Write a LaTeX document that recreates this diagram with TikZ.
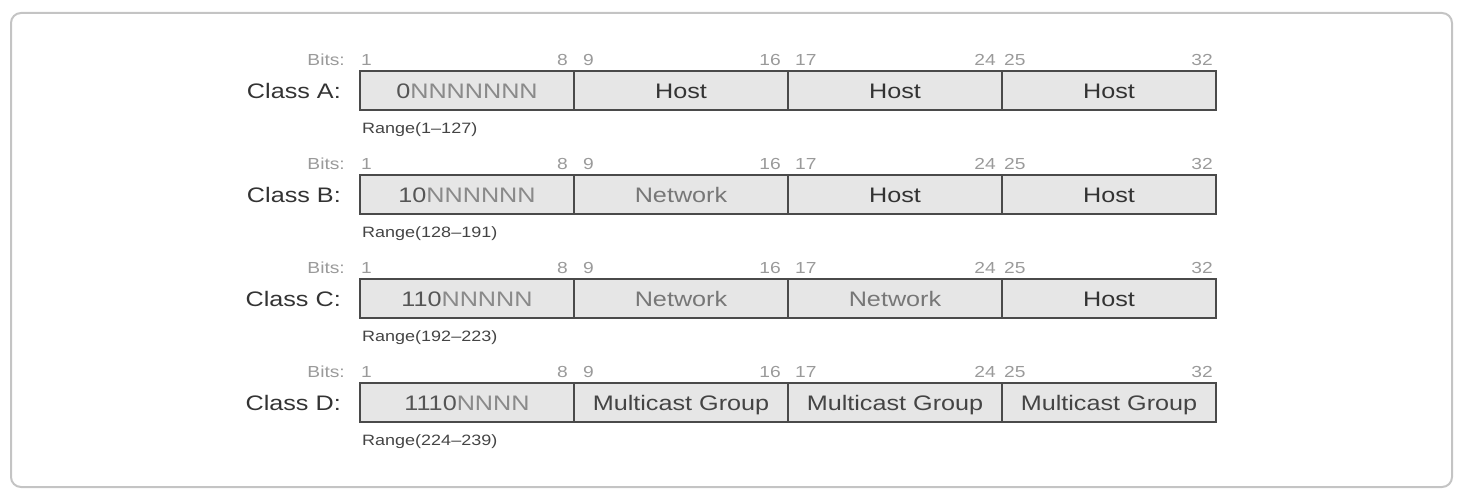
\documentclass[tikz,border=0pt]{standalone}
\usepackage{fontspec}
\setmainfont{Liberation Sans}[FakeStretch=1.2]
\definecolor{framegray}{HTML}{C4C4C4}
\definecolor{boxline}{HTML}{4A4A4A}
\definecolor{boxfill}{HTML}{E6E6E6}
\definecolor{classtxt}{HTML}{333333}
\definecolor{bitgray}{HTML}{9A9A9A}
\definecolor{rangetxt}{HTML}{444444}
\definecolor{leadtxt}{HTML}{555555}
\definecolor{ntxt}{HTML}{8A8A8A}
\definecolor{hosttxt}{HTML}{333333}
\definecolor{nettxt}{HTML}{777777}
\definecolor{mctxt}{HTML}{444444}
\begin{document}
\begin{tikzpicture}[x=1pt,y=-1pt,
  frame/.style={draw=framegray, line width=2pt, rounded corners=10pt},
  seg/.style={draw=boxline, fill=boxfill, line width=1.5pt, minimum width=214pt, minimum height=39pt, inner sep=0pt, text height=16pt, text depth=0pt, font=\fontsize{21}{21}\selectfont},
  cls/.style={anchor=east, inner sep=0pt, text=classtxt, font=\fontsize{21}{21}\selectfont, text height=16pt, text depth=0pt},
  bitlbl/.style={inner sep=0pt, text=bitgray, font=\fontsize{16}{16}\selectfont, text height=11pt, text depth=0pt},
  rng/.style={anchor=west, inner sep=0pt, text=rangetxt, font=\fontsize{15}{15}\selectfont, text height=11pt, text depth=0pt}
]
\useasboundingbox (0,0) rectangle (1474,500);
\draw[frame] (11,13) rectangle (1452,487);

% bit numbers and "Bits:" labels
\foreach \r/\y in {a/60, b/164, c/268, d/372} {
  \node[bitlbl, anchor=east] (bits\r) at (345,\y) {Bits:};
  \foreach \n/\an/\x in {1/west/361, 8/east/568, 9/west/583, 16/east/781, 17/west/795, 24/east/996, 25/west/1004, 32/east/1213} {
    \node[bitlbl, anchor=\an] (n\r\n) at (\x,\y) {\n};
  }
}

% Class A
\node[cls] (clsa) at (341,90.5) {Class A:};
\node[seg] (a1) at (467,90.5) {\textcolor{leadtxt}{0}\textcolor{ntxt}{NNNNNNN}};
\node[seg, text=hosttxt] (a2) at (681,90.5) {Host};
\node[seg, text=hosttxt] (a3) at (895,90.5) {Host};
\node[seg, text=hosttxt] (a4) at (1109,90.5) {Host};
\node[rng] (rnga) at (362,128) {Range(1\textendash127)};

% Class B
\node[cls] (clsb) at (341,194.5) {Class B:};
\node[seg] (b1) at (467,194.5) {\textcolor{leadtxt}{10}\textcolor{ntxt}{NNNNNN}};
\node[seg, text=nettxt] (b2) at (681,194.5) {Network};
\node[seg, text=hosttxt] (b3) at (895,194.5) {Host};
\node[seg, text=hosttxt] (b4) at (1109,194.5) {Host};
\node[rng] (rngb) at (362,232) {Range(128\textendash191)};

% Class C
\node[cls] (clsc) at (341,298.5) {Class C:};
\node[seg] (c1) at (467,298.5) {\textcolor{leadtxt}{110}\textcolor{ntxt}{NNNNN}};
\node[seg, text=nettxt] (c2) at (681,298.5) {Network};
\node[seg, text=nettxt] (c3) at (895,298.5) {Network};
\node[seg, text=hosttxt] (c4) at (1109,298.5) {Host};
\node[rng] (rngc) at (362,336) {Range(192\textendash223)};

% Class D
\node[cls] (clsd) at (341,402.5) {Class D:};
\node[seg] (d1) at (467,402.5) {\textcolor{leadtxt}{1110}\textcolor{ntxt}{NNNN}};
\node[seg, text=mctxt] (d2) at (681,402.5) {Multicast Group};
\node[seg, text=mctxt] (d3) at (895,402.5) {Multicast Group};
\node[seg, text=mctxt] (d4) at (1109,402.5) {Multicast Group};
\node[rng] (rngd) at (362,440) {Range(224\textendash239)};
\end{tikzpicture}
\end{document}
